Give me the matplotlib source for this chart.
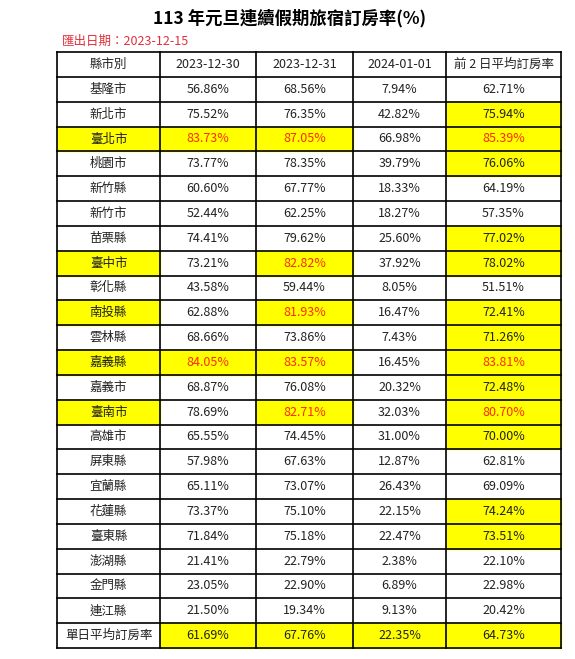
import matplotlib
matplotlib.use("Agg")
import matplotlib.pyplot as plt
from matplotlib.patches import Rectangle

plt.rcParams['font.family'] = ['Noto Sans CJK TC', 'DejaVu Sans']

title = "113 年元旦連續假期旅宿訂房率(%)"
subtitle = "匯出日期：2023-12-15"
headers = ["縣市別", "2023-12-30", "2023-12-31", "2024-01-01", "前 2 日平均訂房率"]
regions = ["基隆市", "新北市", "臺北市", "桃園市", "新竹縣", "新竹市", "苗栗縣", "臺中市",
           "彰化縣", "南投縣", "雲林縣", "嘉義縣", "嘉義市", "臺南市", "高雄市", "屏東縣",
           "宜蘭縣", "花蓮縣", "臺東縣", "澎湖縣", "金門縣", "連江縣", "單日平均訂房率"]
d1230 = [56.86, 75.52, 83.73, 73.77, 60.60, 52.44, 74.41, 73.21, 43.58, 62.88, 68.66, 84.05,
         68.87, 78.69, 65.55, 57.98, 65.11, 73.37, 71.84, 21.41, 23.05, 21.50, 61.69]
d1231 = [68.56, 76.35, 87.05, 78.35, 67.77, 62.25, 79.62, 82.82, 59.44, 81.93, 73.86, 83.57,
         76.08, 82.71, 74.45, 67.63, 73.07, 75.10, 75.18, 22.79, 22.90, 19.34, 67.76]
d0101 = [7.94, 42.82, 66.98, 39.79, 18.33, 18.27, 25.60, 37.92, 8.05, 16.47, 7.43, 16.45,
         20.32, 32.03, 31.00, 12.87, 26.43, 22.15, 22.47, 2.38, 6.89, 9.13, 22.35]
avg2 = [62.71, 75.94, 85.39, 76.06, 64.19, 57.35, 77.02, 78.02, 51.51, 72.41, 71.26, 83.81,
        72.48, 80.70, 70.00, 62.81, 69.09, 74.24, 73.51, 22.10, 22.98, 20.42, 64.73]

W, H = 575, 659
fig = plt.figure(figsize=(W/100, H/100), dpi=100)
ax = fig.add_axes([0, 0, 1, 1])
ax.set_xlim(0, W); ax.set_ylim(H, 0); ax.axis('off')

xs = [57, 160, 256, 353, 446, 561]
top, bottom = 52, 648
nrows = len(regions) + 1
rh = (bottom - top) / nrows
cols = [d1230, d1231, d0101, avg2]
last = len(regions) - 1

def style(r, c):
    """return (yellow, red) for data row r, column c (0=name)"""
    if r == last:
        return (c > 0, False)
    hi = [v >= 80 for v in (d1230[r], d1231[r])]
    if c == 0:
        return (any(hi), False)
    if c in (1, 2):
        return (hi[c-1], hi[c-1])
    if c == 4:
        return (avg2[r] >= 70, avg2[r] >= 80)
    return (False, False)

ax.text(W/2 + 2, 18, title, ha='center', va='center', fontsize=12.5, fontweight='bold')
ax.text(62, 41, subtitle, ha='left', va='center', fontsize=9, color='#e0303a')

for c, h in enumerate(headers):
    ax.text((xs[c]+xs[c+1])/2, top + rh/2, h, ha='center', va='center', fontsize=9, color='#222')

for r, name in enumerate(regions):
    y0 = top + (r+1)*rh
    for c in range(5):
        yel, red = style(r, c)
        if yel:
            ax.add_patch(Rectangle((xs[c], y0), xs[c+1]-xs[c], rh, color='#ffff00', zorder=0))
        txt = name if c == 0 else f"{cols[c-1][r]:.2f}%"
        ax.text((xs[c]+xs[c+1])/2, y0 + rh/2, txt, ha='center', va='center', fontsize=9,
                color='#ff2a00' if red else '#222')

for i in range(nrows + 1):
    y = top + i*rh
    ax.plot([xs[0], xs[-1]], [y, y], color='black', lw=1.2)
for x in xs:
    ax.plot([x, x], [top, bottom], color='black', lw=1.2)

fig.savefig("out.png", dpi=100)
